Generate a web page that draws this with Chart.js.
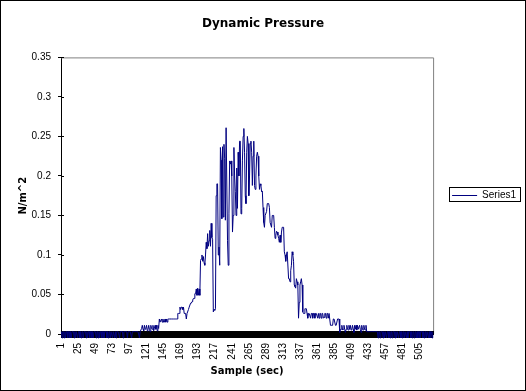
<!DOCTYPE html>
<html>
<head>
<meta charset="utf-8">
<script src="https://cdn.jsdelivr.net/npm/chart.js@4"></script>
<style>
  html, body { margin: 0; padding: 0; background: #fff; }
  #wrap { width: 526px; height: 391px; }
</style>
</head>
<body>
<div id="wrap"><canvas id="pressureChart" width="526" height="391"></canvas></div>
<script>
// Dynamic pressure readings (N/m^2), one value per sample

// samples 1-113: sensor idle, noise around zero
const quietStart = [
    0.003, -0.005, 0.003, 0.003, -0.005, 0.003, -0.005, 0.003, 0.003, -0.005,
    0.003, 0.003, -0.005, 0.003, -0.005, 0.003, 0.003, 0.003, -0.005, 0.003,
    -0.005, 0.003, 0.003, -0.005, 0.003, 0.003, -0.005, 0.003, -0.005, 0.003,
    0.003, -0.005, 0.003, 0.003, 0.003, -0.005, 0.003, -0.005, 0.003, 0.003,
    -0.005, 0.003, 0.003, -0.005, 0.003, -0.005, 0.003, 0.003, 0.003, -0.005,
    0.003, 0.003, -0.005, 0.003, -0.005, 0.003, 0.003, -0.005, 0.003, 0.003,
    -0.005, 0.003, 0.003, 0.003, -0.005, 0.003, -0.005, 0.003, 0.003, -0.005,
    0.003, 0.003, -0.005, 0.003, 0.003, -0.005, 0.003, -0.005, 0.003, 0.003,
    0.003, 0.003, -0.005, 0.003, 0.003, 0.003, 0.003, -0.005, 0.003, 0.003,
    0.003, 0.003, 0.003, -0.005, 0.003, 0.003, 0.003, 0.003, 0.003, -0.005,
    0.003, 0.003, 0.003, 0.003, 0.003, 0.003, 0.003, 0.003, 0.003, 0.003,
    -0.005, 0.003, 0.003
];

// samples 114-164: first slow climb
const riseLow = [
    0.007, 0.011, 0.006, 0.004, 0.011, 0.006, 0.007, 0.011, 0.004, 0.006,
    0.011, 0.006, 0.003, 0.011, 0.007, 0.006, 0.011, 0.004, 0.007, 0.011,
    0.006, 0.011, 0.004, 0.011, 0.007,
    0.019, 0.015, 0.015, 0.019, 0.015, 0.019, 0.015, 0.015, 0.019, 0.015,
    0.019, 0.015, 0.019, 0.019, 0.019, 0.019, 0.019, 0.019,
    0.019, 0.019, 0.019, 0.019, 0.019, 0.019, 0.019, 0.019
];

// samples 165-197
const riseMid = [
    0.026, 0.026, 0.026, 0.034, 0.031, 0.034, 0.034, 0.031, 0.034, 0.026,
    0.026, 0.026, 0.019, 0.026, 0.026, 0.031, 0.034, 0.034, 0.039,
    0.039, 0.041, 0.043, 0.045, 0.045, 0.051, 0.051, 0.057, 0.049, 0.058,
    0.049, 0.057, 0.049, 0.093
];

// samples 198-308: the peak
const peak = [
    0.095, 0.1, 0.092, 0.098, 0.09, 0.087, 0.1, 0.116, 0.108, 0.127,
    0.111, 0.118, 0.131, 0.111, 0.14, 0.122, 0.12,
    0.028, 0.031, 0.03, 0.032, 0.175, 0.19, 0.19, 0.1, 0.11, 0.087,
    0.236, 0.22, 0.146, 0.237, 0.148, 0.24, 0.222, 0.144, 0.261, 0.261,
    0.118, 0.087, 0.152, 0.219, 0.215, 0.219, 0.2, 0.129, 0.15, 0.236,
    0.2, 0.18, 0.15, 0.21, 0.159, 0.23, 0.2, 0.244, 0.244, 0.152,
    0.159, 0.22, 0.25, 0.26, 0.23, 0.175, 0.165, 0.23, 0.25, 0.241,
    0.175, 0.2, 0.241, 0.244, 0.23, 0.188, 0.225, 0.244, 0.188, 0.183,
    0.2, 0.225, 0.23, 0.225, 0.2, 0.183, 0.19, 0.188, 0.18, 0.181,
    0.16, 0.141, 0.135, 0.15, 0.15, 0.155, 0.165, 0.165, 0.165, 0.16,
    0.141, 0.141, 0.135, 0.15, 0.15, 0.15, 0.135, 0.121, 0.125, 0.13,
    0.129, 0.125, 0.121, 0.116
];

// samples 309-393: fall off
const decay = [
    0.125, 0.116, 0.129, 0.135, 0.135, 0.135, 0.104, 0.1, 0.092, 0.1,
    0.104, 0.104, 0.07, 0.07, 0.066, 0.08, 0.087, 0.104, 0.1, 0.092,
    0.062, 0.06, 0.058, 0.07, 0.066, 0.062, 0.02, 0.04, 0.062, 0.066,
    0.07, 0.062, 0.028, 0.026, 0.026, 0.032, 0.032, 0.032, 0.026, 0.02,
    0.026, 0.026, 0.026, 0.02, 0.026, 0.026, 0.02, 0.026, 0.026, 0.02,
    0.026, 0.026, 0.026, 0.02, 0.026, 0.02, 0.026, 0.026, 0.02, 0.026,
    0.026, 0.02, 0.021,
    0.026, 0.026, 0.02, 0.026, 0.026, 0.02, 0.026, 0.026, 0.011, 0.011,
    0.011, 0.011, 0.019, 0.019, 0.019, 0.011, 0.011, 0.011, 0.019, 0.019,
    0.019, 0.002
];

// samples 394-524: back to idle
const quietEnd = [
    0.006, 0.006, 0.011, 0.005, 0.006, 0.011, 0.006, 0.002, 0.006, 0.011,
    0.006, 0.005, 0.011, 0.006, 0.011, 0.005, 0.006, 0.011, 0.006, 0.002,
    0.011, 0.006, 0.011, 0.005, 0.011, 0.006, 0.006, 0.011, 0.006, 0.002,
    0.011, 0.006, 0.005, 0.011, 0.006, 0.005, 0.011, 0.003,
    0.003, 0.003, 0.003, 0.003, 0.003, 0.003, 0.003, 0.003, 0.003, 0.003,
    0.003, 0.003, 0.003,
    0.003, 0.003, -0.005, 0.003, 0.003, -0.005, 0.003, 0.003, 0.003, -0.005,
    0.003, -0.005, 0.003, 0.003, -0.005, 0.003, 0.003, -0.005, 0.003, -0.005,
    0.003, 0.003, -0.005, 0.003, 0.003, 0.003, -0.005, 0.003, -0.005, 0.003,
    0.003, -0.005, 0.003, 0.003, -0.005, 0.003, -0.005, 0.003, 0.003, -0.005,
    0.003, 0.003, -0.005, 0.003, -0.005, 0.003, 0.003, 0.003, -0.005, 0.003,
    -0.005, 0.003, 0.003, -0.005, 0.003, 0.003, -0.005, 0.003, -0.005, 0.003,
    0.003, -0.005, 0.003, 0.003, 0.003, -0.005, 0.003, -0.005, 0.003, 0.003,
    -0.005, 0.003, 0.003, -0.005, 0.003, -0.005, 0.003, 0.003, -0.005, 0.003
];

const yTicks = [0, 0.05, 0.1, 0.15, 0.2, 0.25, 0.3, 0.35];
const labelEvery = 24;   // 1, 25, 49 ... 505

const pressure = quietStart.concat(riseLow, riseMid, peak, decay, quietEnd);
const samples = pressure.map((v, i) => String(i + 1));

const tickFont = { family: 'Liberation Sans, Arial, sans-serif', size: 10 };
const boldFont = { family: 'DejaVu Sans, sans-serif', size: 10, weight: 'bold' };

// white page, grey plot border, crossing ticks, legend box and outer frame
const excelLook = {
    id: 'excelLook',
    beforeDraw(chart) {
        const ctx = chart.ctx;
        ctx.save();
        ctx.fillStyle = '#fff';
        ctx.fillRect(0, 0, chart.width, chart.height);
        ctx.restore();
    },
    beforeDatasetsDraw(chart) {
        const { ctx, chartArea: a, scales } = chart;
        ctx.save();
        ctx.lineWidth = 1;
        ctx.strokeStyle = '#808080';
        ctx.beginPath();
        ctx.moveTo(a.left, a.top + 0.5);
        ctx.lineTo(a.right + 0.5, a.top + 0.5);
        ctx.lineTo(a.right + 0.5, a.bottom);
        ctx.stroke();

        // upper half of the tick marks (Excel draws them across the axis)
        ctx.strokeStyle = '#000';
        ctx.beginPath();
        scales.x.ticks.forEach((t, i) => {
            const px = Math.round(scales.x.getPixelForTick(i)) + 0.5;
            ctx.moveTo(px, a.bottom - 3);
            ctx.lineTo(px, a.bottom);
        });
        scales.y.ticks.forEach((t, i) => {
            const py = Math.round(scales.y.getPixelForTick(i)) + 0.5;
            ctx.moveTo(a.left, py);
            ctx.lineTo(a.left + 3, py);
        });
        ctx.stroke();
        ctx.restore();
    },
    afterDraw(chart) {
        const ctx = chart.ctx;
        ctx.save();
        ctx.strokeStyle = '#000';
        ctx.lineWidth = 1;
        const hb = chart.legend.legendHitBoxes[0];
        if (hb) {
            ctx.strokeRect(Math.round(hb.left) - 2.5, Math.round(hb.top) - 3.5,
                Math.round(hb.width) + 7, Math.round(hb.height) + 4);
        }
        ctx.strokeRect(0.5, 0.5, chart.width - 1, chart.height - 1);
        ctx.restore();
    }
};

Chart.defaults.color = '#000';
Chart.defaults.font.family = 'Liberation Sans, Arial, sans-serif';

new Chart(document.getElementById('pressureChart').getContext('2d'), {
    type: 'line',
    data: {
        labels: samples,
        datasets: [{
            label: 'Series1',
            data: pressure,
            borderColor: '#000080',
            backgroundColor: '#000080',
            borderWidth: 1,
            pointRadius: 0,
            tension: 0,
            fill: false,
            clip: false
        }]
    },
    options: {
        responsive: false,
        animation: false,
        devicePixelRatio: 1,
        layout: {
            padding: { left: 0, right: 0, top: 0, bottom: 0 }
        },
        plugins: {
            title: {
                display: true,
                text: 'Dynamic Pressure',
                font: { family: 'DejaVu Sans, sans-serif', size: 12, weight: 'bold' },
                padding: { top: 17, bottom: 26 }
            },
            legend: {
                display: true,
                position: 'right',
                maxWidth: 93,
                labels: {
                    usePointStyle: true,
                    pointStyle: 'line',
                    pointStyleWidth: 25,
                    boxHeight: 10,
                    padding: 19,
                    font: tickFont
                }
            },
            tooltip: { enabled: false }
        },
        scales: {
            x: {
                type: 'category',
                offset: true,
                border: { color: '#000', width: 1 },
                grid: { display: true, drawOnChartArea: false, color: '#000', tickLength: 4 },
                ticks: {
                    autoSkip: false,
                    minRotation: 90,
                    maxRotation: 90,
                    padding: 5,
                    font: tickFont,
                    callback: function (value, index) {
                        return index % labelEvery === 0 ? samples[index] : '';
                    }
                },
                title: {
                    display: true,
                    text: 'Sample (sec)',
                    font: boldFont,
                    padding: { top: 0, bottom: 14 }
                },
                afterFit: function (scale) {
                    scale.height = 57;
                }
            },
            y: {
                min: 0,
                max: 0.35,
                border: { color: '#000', width: 1 },
                grid: { display: true, drawOnChartArea: false, color: '#000', tickLength: 3 },
                afterBuildTicks: function (scale) {
                    scale.ticks = yTicks.map(v => ({ value: v }));
                },
                ticks: {
                    padding: 7,
                    font: tickFont,
                    callback: function (value) {
                        return String(+value.toFixed(2));
                    }
                },
                title: {
                    display: true,
                    text: 'N/m^2',
                    font: boldFont,
                    padding: { top: 17, bottom: 0 }
                },
                afterFit: function (scale) {
                    scale.width = 61;
                }
            }
        }
    },
    plugins: [excelLook]
});
</script>
</body>
</html>
